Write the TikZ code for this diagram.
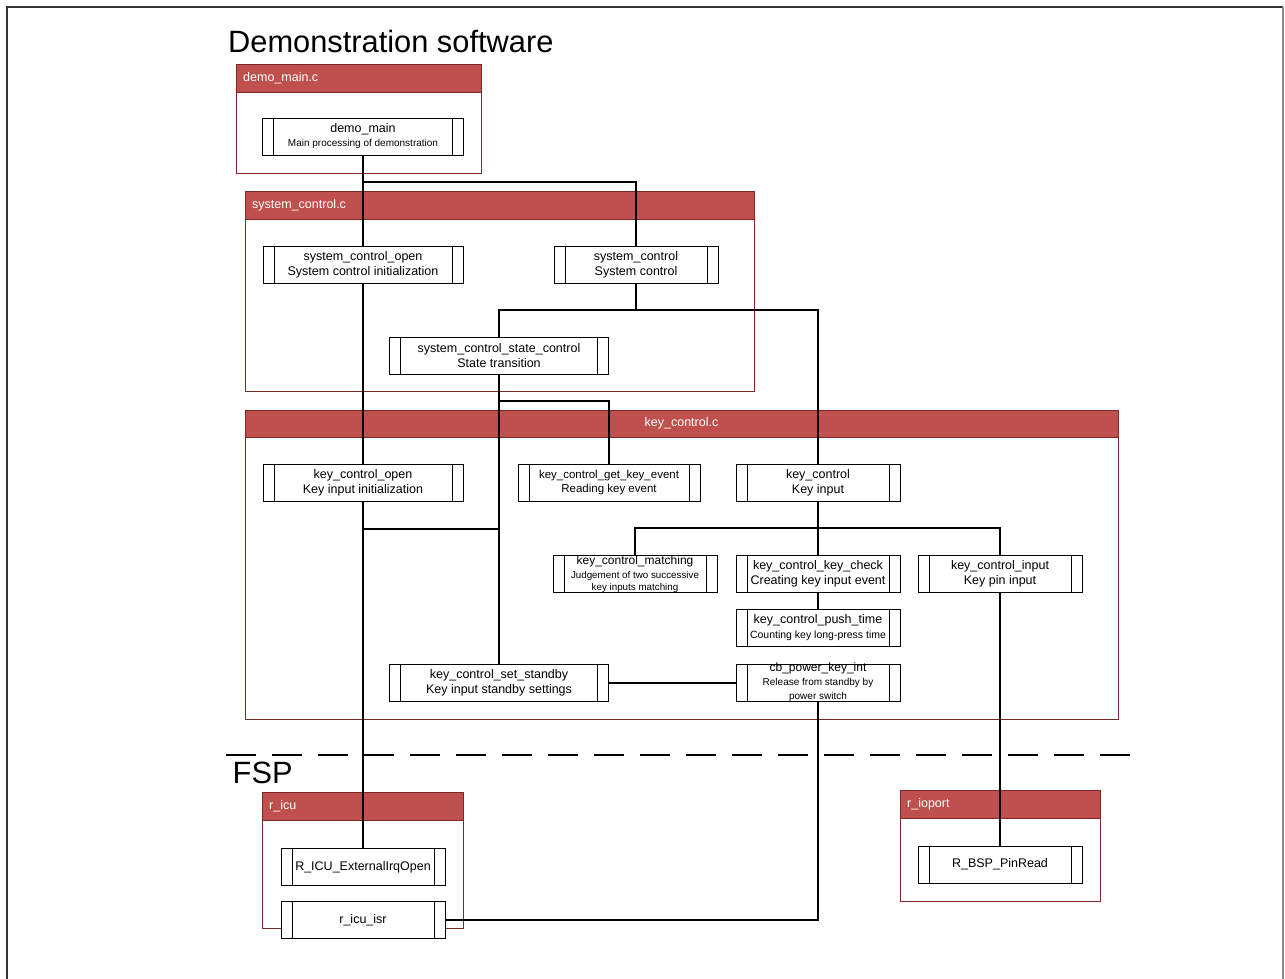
\documentclass[tikz,border=0pt]{standalone}
\usepackage{fontspec}
\setmainfont{Liberation Sans}
\usetikzlibrary{calc}
\definecolor{hdr}{RGB}{192,80,77}
\definecolor{cbd}{RGB}{125,40,38}
\begin{document}
\begin{tikzpicture}[x=1pt,y=-1pt,
  fn/.style={draw=black, fill=white, line width=0.9pt, minimum height=37pt, inner sep=0pt, align=center,
    font=\fontsize{12.5}{15}\selectfont,
    path picture={\draw[line width=0.9pt] ([xshift=11pt]path picture bounding box.north west) -- ([xshift=11pt]path picture bounding box.south west);
      \draw[line width=0.9pt] ([xshift=-11pt]path picture bounding box.north east) -- ([xshift=-11pt]path picture bounding box.south east);}},
  lbl/.style={align=center, inner sep=0pt},
  wire/.style={line width=2pt, black},
  cont/.style={draw=cbd, line width=0.8pt},
  hbar/.style={fill=hdr, draw=cbd, line width=0.8pt},
  htxt/.style={text=white, font=\fontsize{12.5}{15}\selectfont, inner sep=0pt},
  big/.style={font=\fontsize{30.8}{34}\selectfont, inner sep=0pt, anchor=base west},
]
\useasboundingbox (0,0) rectangle (1285,979);
% outer frame
\draw[line width=1.4pt, black!80] (7,985) -- (7,7) -- (1283,7);
\draw[line width=1.2pt, black!45] (1283,7) -- (1283,985);

% titles
\node[big] (title) at (228,53) {Demonstration software};
\node[big] (fsp) at (232.5,783) {FSP};

% containers
\filldraw[hbar] (236,64) rectangle (481,92);
\draw[cont] (236,64) rectangle (481,173);
\node[htxt, anchor=west] (tdm) at (243,78) {demo\_main.c};

\filldraw[hbar] (245,191) rectangle (754,219);
\draw[cont] (245,191) rectangle (754,391);
\node[htxt, anchor=west] (tsc) at (252,205) {system\_control.c};

\filldraw[hbar] (245,410) rectangle (1118,437);
\draw[cont] (245,410) rectangle (1118,719);
\node[htxt] (tkc) at (681.5,423.5) {key\_control.c};

\filldraw[hbar] (262,792) rectangle (463,820);
\draw[cont] (262,792) rectangle (463,928);
\node[htxt, anchor=west] (tri) at (269,806) {r\_icu};

\filldraw[hbar] (900,790) rectangle (1100,818);
\draw[cont] (900,790) rectangle (1100,901);
\node[htxt, anchor=west] (trp) at (907,804) {r\_ioport};

% separator
\draw[line width=2.6pt, dash pattern=on 30pt off 16pt] (226,755) -- (1134,755);

\coordinate (b1) at (0,182);
\coordinate (b2) at (0,310);
\coordinate (b3) at (0,401);
\coordinate (b4) at (0,529);
\coordinate (b5) at (0,528);

% function boxes
\path
  node[fn, minimum width=201pt] (dm) at (363,136.5) {demo\_main\\[-1pt]{\fontsize{10}{12}\selectfont Main processing of demonstration}}
  node[fn, minimum width=200pt] (sco) at (363,264.5) {system\_control\_open\\System control initialization}
  node[fn, minimum width=164pt] (sc) at (636,264.5) {system\_control\\System control}
  node[fn, minimum width=219pt] (ssc) at (499,355.5) {system\_control\_state\_control\\State transition}
  node[fn, minimum width=200pt] (kco) at (363,482.5) {key\_control\_open\\Key input initialization}
  node[fn, minimum width=182pt, font=\fontsize{11.5}{14}\selectfont] (kge) at (609,482.5) {key\_control\_get\_key\_event\\Reading key event}
  node[fn, minimum width=164pt] (kc) at (818,482.5) {key\_control\\Key input}
  node[fn, minimum width=164pt] (km) at (635,573.5) {}
  node[fn, minimum width=164pt] (kkc) at (818,573.5) {key\_control\_key\_check\\Creating key input event}
  node[fn, minimum width=164pt] (ki) at (1000,573.5) {key\_control\_input\\Key pin input}
  node[fn, minimum width=164pt] (kpt) at (818,628) {key\_control\_push\_time\\{\fontsize{10.5}{12}\selectfont Counting key long-press time}}
  node[fn, minimum width=164pt] (cbp) at (818,683) {}
  node[fn, minimum width=219pt] (kss) at (499,683) {key\_control\_set\_standby\\Key input standby settings}
  node[fn, minimum width=164pt] (ricu) at (363,867) {R\_ICU\_ExternalIrqOpen}
  node[fn, minimum width=164pt] (risr) at (363,920) {r\_icu\_isr}
  node[fn, minimum width=164pt] (rbsp) at (1000,864.5) {R\_BSP\_PinRead};

% wires
\draw[wire] (dm.south) -- (dm.south |- b1) -| (sc.north);
\draw[wire] (dm.south |- b1) -- (sco.north);
\draw[wire] (sco.south) -- (kco.north);
\draw[wire] (sc.south) -- (sc.south |- b2);
\draw[wire] (ssc.north) -- (ssc.north |- b2) -- (kc.north |- b2) -- (kc.north);
\draw[wire] (ssc.south) -- (kss.north);
\draw[wire] (ssc.south |- b3) -| (kge.north);
\draw[wire] (kco.south) -- (ricu.north);
\draw[wire] (kco.south |- b4) -- (kss.north |- b4);
\draw[wire] (kc.south) -- (kkc.north);
\draw[wire] (km.north) -- (km.north |- b5) -- (ki.north |- b5) -- (ki.north);
\draw[wire] (kkc.south) -- (kpt.north);
\draw[wire] (kss.east) -- (cbp.west);
\draw[wire] (cbp.south) |- (risr.east);
\draw[wire] (ki.south) -- (rbsp.north);

% texts for overflowing boxes
\node[lbl, font=\fontsize{12}{14}\selectfont] (kmt) at (635,561) {key\_control\_matching};
\node[lbl, font=\fontsize{9.8}{12}\selectfont] (kmd) at (635,582) {Judgement of two successive\\key inputs matching};
\node[lbl, font=\fontsize{12}{14}\selectfont] (cbt) at (818,668) {cb\_power\_key\_int};
\node[lbl, font=\fontsize{10}{14}\selectfont] (cbd1) at (818,690) {Release from standby by\\power switch};
\end{tikzpicture}
\end{document}
